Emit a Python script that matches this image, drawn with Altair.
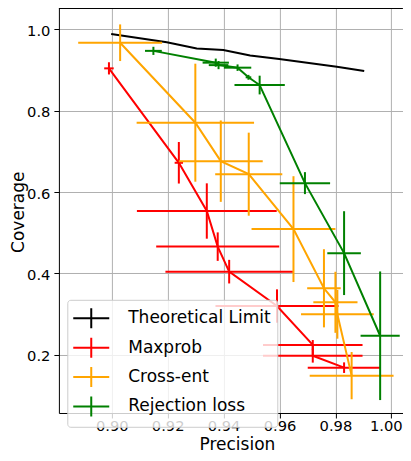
import altair as alt
import pandas as pd

series_names = ["Theoretical Limit", "Maxprob", "Cross-ent", "Rejection loss"]
series_colors = ["#000000", "#ff0000", "#ffa500", "#008000"]

x_ticks = [0.90, 0.92, 0.94, 0.96, 0.98, 1.00]
y_ticks = [0.2, 0.4, 0.6, 0.8, 1.0]

limit_x = [0.8998, 0.9197, 0.9304, 0.9399, 0.9495, 0.9599, 0.9805, 0.9903]
limit_y = [0.9885, 0.968, 0.953, 0.949, 0.9356, 0.927, 0.908, 0.8975]

maxprob_x = [0.8990, 0.9240, 0.9340, 0.9379, 0.9420, 0.9591, 0.9719, 0.9719, 0.9831]
maxprob_y = [0.904, 0.672, 0.5535, 0.466, 0.4045, 0.320, 0.2245, 0.198, 0.1686]
maxprob_xerr = [0.0017, 0.0015, 0.025, 0.022, 0.0228, 0.022, 0.0178, 0.0178, 0.013]
maxprob_yerr = [0.015, 0.051, 0.068, 0.035, 0.029, 0.041, 0.012, 0.017, 0.013]

crossent_x = [0.903, 0.9299, 0.939, 0.949, 0.965, 0.9759, 0.980, 0.9807, 0.9858]
crossent_y = [0.967, 0.7705, 0.676, 0.644, 0.509, 0.3636, 0.3292, 0.2998, 0.149]
crossent_xerr = [0.015, 0.021, 0.015, 0.012, 0.015, 0.006, 0.0079, 0.013, 0.015]
crossent_yerr = [0.045, 0.145, 0.100, 0.102, 0.130, 0.096, 0.075, 0.060, 0.058]

rejection_x = [0.9149, 0.9372, 0.9382, 0.9450, 0.9489, 0.9529, 0.9691, 0.9831, 0.9960]
rejection_y = [0.947, 0.918, 0.912, 0.9057, 0.882, 0.863, 0.622, 0.450, 0.247]
rejection_xerr = [0.003, 0.0047, 0.0035, 0.0049, 0.001, 0.009, 0.009, 0.006, 0.007]
rejection_yerr = [0.010, 0.010, 0.010, 0.008, 0.006, 0.023, 0.027, 0.103, 0.158]

PAD_L = 50.9
PLOT_W = 344
PLOT_H = 405
PAD_B = 40
FONT = "DejaVu Sans"

x_scale = alt.Scale(domain=[0.8811, 0.8811 + PLOT_W / 2796.0], nice=False, zero=False)
y_scale = alt.Scale(domain=[1.0523 - PLOT_H / 407.0, 1.0523], nice=False, zero=False)

x_axis = alt.Axis(values=x_ticks, format=".2f", title="Precision",
                  labelFont=FONT, labelFontSize=14.7, labelColor="black",
                  labelPadding=1, labelFlush=False, labelOverlap=False,
                  labelOffset=alt.condition("datum.value >= 0.999", alt.value(-5.5), alt.value(0)),
                  tickColor="black", tickSize=5, tickWidth=1,
                  domainColor="black", domainWidth=1,
                  gridColor="#b0b0b0", gridWidth=1,
                  titleFont=FONT, titleFontSize=17, titleFontWeight="normal",
                  titleColor="black", titleX=178, titleY=37,
                  titleBaseline="alphabetic")
y_axis = alt.Axis(values=y_ticks, format=".1f", title="Coverage",
                  labelFont=FONT, labelFontSize=14.7, labelColor="black",
                  labelPadding=4, labelOffset=2, labelFlush=False, labelOverlap=False,
                  tickColor="black", tickSize=5, tickWidth=1,
                  domainColor="black", domainWidth=1,
                  gridColor="#b0b0b0", gridWidth=1,
                  titleFont=FONT, titleFontSize=17, titleFontWeight="normal",
                  titleColor="black", titleX=-35.4, titleY=203.7, titleAngle=270,
                  titleBaseline="alphabetic")

legend = alt.Legend(title=None, orient="none", legendX=8.4, legendY=291.8,
                    symbolType="M-1.565,0H1.565M0,-0.87V0.87", symbolSize=529,
                    symbolStrokeWidth=2, symbolOffset=5.45, labelOffset=24.5,
                    labelFont=FONT, labelFontSize=17, labelColor="black",
                    labelLimit=400, padding=6, rowPadding=0.4,
                    fillColor="rgba(255,255,255,0.8)", strokeColor="#cccccc",
                    cornerRadius=3, zindex=1)

color = alt.Color("series:N", scale=alt.Scale(domain=series_names, range=series_colors),
                  legend=legend)


def points_df(name, xs, ys):
    return pd.DataFrame({"series": name, "seq": list(range(len(xs))),
                         "precision": xs, "coverage": ys})


def err_df(name, xs, ys, xe, ye):
    rows = []
    for x, y, a, b in zip(xs, ys, xe, ye):
        rows.append({"series": name, "x": x - a, "x2": x + a, "y": y, "y2": y})
        rows.append({"series": name, "x": x, "x2": x, "y": y - b, "y2": y + b})
    return pd.DataFrame(rows)


def line_layer(df):
    return alt.Chart(df).mark_line(strokeWidth=2).encode(
        x=alt.X("precision:Q", scale=x_scale, axis=x_axis),
        y=alt.Y("coverage:Q", scale=y_scale, axis=y_axis),
        order="seq:Q",
        color=color,
    )


def err_layer(df):
    return alt.Chart(df).mark_rule(strokeWidth=2).encode(
        x=alt.X("x:Q", scale=x_scale, axis=x_axis),
        x2="x2:Q",
        y=alt.Y("y:Q", scale=y_scale, axis=y_axis),
        y2="y2:Q",
        color=color,
    )


layers = [line_layer(points_df("Theoretical Limit", limit_x, limit_y))]
for name, xs, ys, xe, ye in [
    ("Maxprob", maxprob_x, maxprob_y, maxprob_xerr, maxprob_yerr),
    ("Cross-ent", crossent_x, crossent_y, crossent_xerr, crossent_yerr),
    ("Rejection loss", rejection_x, rejection_y, rejection_xerr, rejection_yerr),
]:
    layers.append(line_layer(points_df(name, xs, ys)))
    layers.append(err_layer(err_df(name, xs, ys, xe, ye)))

top_border = alt.Chart(pd.DataFrame({"a": [0]})).mark_rule(color="black", strokeWidth=1).encode(
    x=alt.value(0), x2=alt.value(PLOT_W), y=alt.value(0.5)
)
layers.append(top_border)

chart = alt.layer(*layers).properties(
    width=PLOT_W, height=PLOT_H,
    padding={"left": PAD_L, "top": 0, "right": 0, "bottom": PAD_B},
    autosize=alt.AutoSizeParams(type="none"),
).configure_view(strokeWidth=0)

chart.save("out.html", embed_options={"renderer": "svg", "actions": False})
